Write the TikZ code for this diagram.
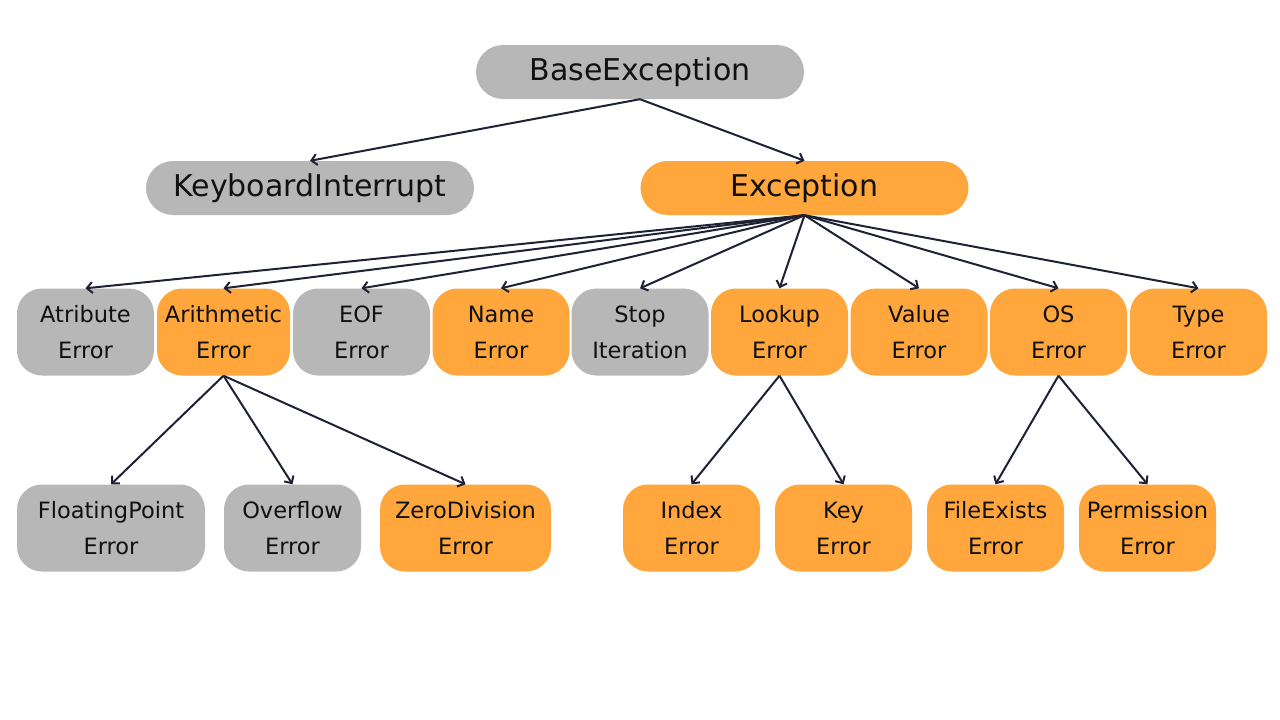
\documentclass[tikz,border=0pt]{standalone}
\usepackage{fontspec}
\setmainfont{DejaVu Sans}
\usetikzlibrary{arrows.meta}
\definecolor{boxgray}{HTML}{B7B7B7}
\definecolor{boxorange}{HTML}{FFA63D}
\definecolor{arrowc}{HTML}{1E2235}
\definecolor{txt}{HTML}{111111}
\begin{document}
\begin{tikzpicture}[x=1pt,y=-1pt,
  base/.style={draw=none,inner sep=0pt,align=center,text=txt},
  top/.style={base,minimum width=328pt,minimum height=54pt,rounded corners=27pt,font=\fontsize{30}{36}\selectfont},
  mid/.style={base,minimum width=137pt,minimum height=87pt,rounded corners=25pt,font=\fontsize{22.5}{36}\selectfont},
  gr/.style={fill=boxgray},
  og/.style={fill=boxorange},
  conn/.style={draw=arrowc,line width=2pt,-{Straight Barb[length=5.5pt,width=11pt]}}]
\useasboundingbox (0,0) rectangle (1280,720);
\fill[white] (0,0) rectangle (1280,720);
% level 1
\node[top,gr] (base) at (640,72) {BaseException};
% level 2
\node[top,gr] (kbd) at (310,188) {KeyboardInterrupt};
\node[top,og] (exc) at (804.5,188) {Exception};
% level 3
\node[mid,gr] (attr) at (85.5,332) {Atribute\\Error};
\node[mid,og,minimum width=133pt] (arith) at (223.5,332) {Arithmetic\\Error};
\node[mid,gr] (eof) at (361.5,332) {EOF\\Error};
\node[mid,og] (name) at (501,332) {Name\\Error};
\node[mid,gr] (stop) at (640,332) {Stop\\Iteration};
\node[mid,og] (look) at (779.5,332) {Lookup\\Error};
\node[mid,og] (value) at (919,332) {Value\\Error};
\node[mid,og] (os) at (1058.5,332) {OS\\Error};
\node[mid,og] (type) at (1198.5,332) {Type\\Error};
% level 4
\node[mid,gr,minimum width=188pt] (float) at (111,528) {FloatingPoint\\Error};
\node[mid,gr] (over) at (292.5,528) {Overflow\\Error};
\node[mid,og,minimum width=171pt] (zero) at (465.5,528) {ZeroDivision\\Error};
\node[mid,og] (index) at (691.5,528) {Index\\Error};
\node[mid,og] (key) at (843.5,528) {Key\\Error};
\node[mid,og] (fexist) at (995.5,528) {FileExists\\Error};
\node[mid,og] (perm) at (1147.5,528) {Permission\\Error};
% connectors
\draw[conn] (base.south) -- (kbd.north);
\draw[conn] (base.south) -- (exc.north);
\foreach \c in {attr,arith,eof,name,stop,look,value,os,type}
  \draw[conn] (exc.south) -- (\c.north);
\foreach \c in {float,over,zero}
  \draw[conn] (arith.south) -- (\c.north);
\foreach \c in {index,key}
  \draw[conn] (look.south) -- (\c.north);
\foreach \c in {fexist,perm}
  \draw[conn] (os.south) -- (\c.north);
\end{tikzpicture}
\end{document}
